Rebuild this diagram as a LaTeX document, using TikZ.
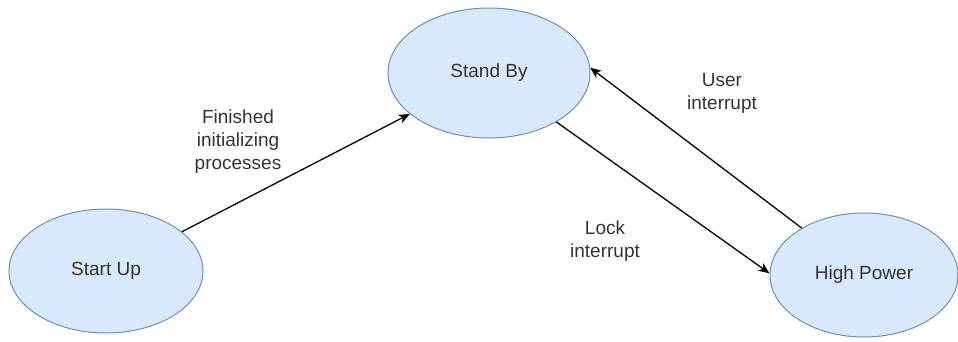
\documentclass[tikz,border=0pt]{standalone}
\usepackage{fontspec}
\setmainfont{Liberation Sans}
\usetikzlibrary{arrows.meta}
\usetikzlibrary{shapes, positioning}
\definecolor{stfill}{HTML}{DAE8FC}
\definecolor{stline}{HTML}{6C8EBF}
\definecolor{sttext}{HTML}{333333}
\tikzset{
    state/.style={
        ellipse, draw=stline, fill=stfill, line width=1pt, inner sep=0pt,
        text=sttext, font=\fontsize{19}{23}\selectfont
    },
    trans/.style={
        -{Stealth[length=11pt, width=9pt, inset=3pt]}, line width=1.3pt, black
    },
    tlabel/.style={
        align=center, text=sttext, font=\fontsize{19}{23}\selectfont
    }
}

\begin{document}
\begin{tikzpicture}[x=1pt, y=-1pt]
    \useasboundingbox (0,0) rectangle (958,341);
    \node[state, minimum width=194pt, minimum height=124pt] (startup) at (106,271) {Start Up};
    \node[state, minimum width=202pt, minimum height=130pt] (standby) at (489,73) {Stand By};
    \node[state, minimum width=188pt, minimum height=124pt] (highpower) at (864,275) {High Power};
    % transitions
    \draw[trans] (startup) -- (standby);
    \draw[trans] (standby.-36) -- (highpower.179);
    \draw[trans] (highpower.143) -- (standby.3);
    \node[tlabel] (lfinished) at (238,142) {Finished\\initializing\\processes};
    \node[tlabel] (luser) at (722,93) {User\\interrupt};
    \node[tlabel] (llock) at (605,241) {Lock\\interrupt};
\end{tikzpicture}
\end{document}
